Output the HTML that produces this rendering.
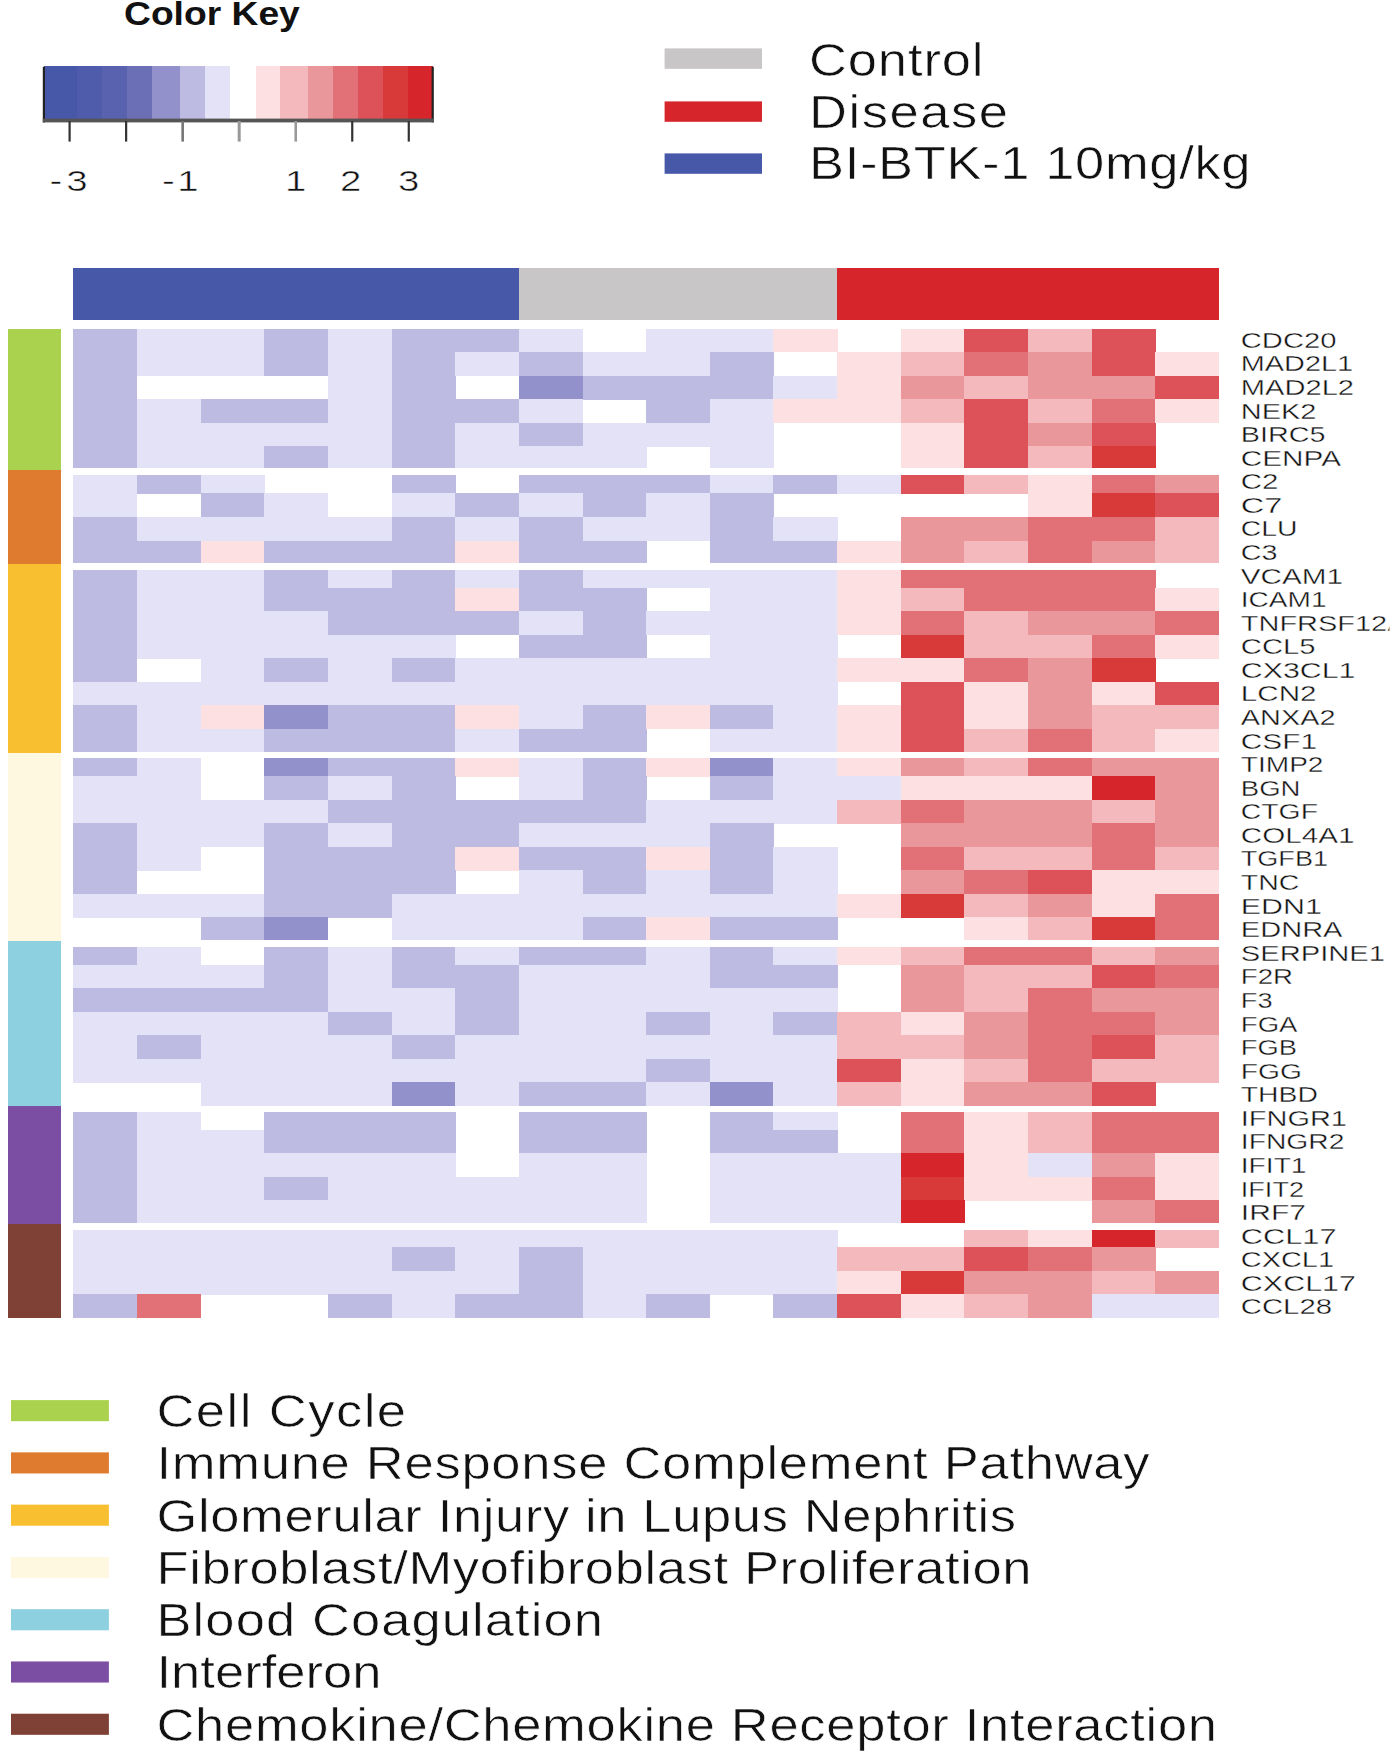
<!DOCTYPE html>
<html><head><meta charset="utf-8"><title>Heatmap</title>
<style>html,body{margin:0;padding:0;background:#fff}svg{display:block}text{font-family:"Liberation Sans",Arial,Helvetica,sans-serif;fill:#111}</style></head><body>
<svg width="1395" height="1755" viewBox="0 0 1395 1755">
<defs><clipPath id="clipR"><rect x="0" y="0" width="1389.4" height="1755"/></clipPath></defs>
<rect width="1395" height="1755" fill="#fff"/>
<g shape-rendering="crispEdges">
<rect x="43.70" y="66.3" width="33.90" height="52.70" fill="#4858A8"/>
<rect x="77.10" y="66.3" width="25.40" height="52.70" fill="#4E5CAB"/>
<rect x="102.00" y="66.3" width="25.60" height="52.70" fill="#5962AE"/>
<rect x="127.10" y="66.3" width="25.80" height="52.70" fill="#6B6FB6"/>
<rect x="152.40" y="66.3" width="28.40" height="52.70" fill="#9391CB"/>
<rect x="180.30" y="66.3" width="25.30" height="52.70" fill="#BDBBE2"/>
<rect x="205.10" y="66.3" width="25.30" height="52.70" fill="#E4E2F6"/>
<rect x="229.90" y="66.3" width="26.20" height="52.70" fill="#FFFFFF"/>
<rect x="255.60" y="66.3" width="25.30" height="52.70" fill="#FDE0E1"/>
<rect x="280.40" y="66.3" width="28.10" height="52.70" fill="#F3B9BC"/>
<rect x="308.00" y="66.3" width="25.60" height="52.70" fill="#E9979B"/>
<rect x="333.10" y="66.3" width="25.40" height="52.70" fill="#E27177"/>
<rect x="358.00" y="66.3" width="25.30" height="52.70" fill="#DC5258"/>
<rect x="382.80" y="66.3" width="25.30" height="52.70" fill="#D83A3A"/>
<rect x="407.60" y="66.3" width="25.40" height="52.70" fill="#D7262B"/>
</g>
<rect x="42.8" y="66.8" width="2.2" height="55.60" fill="#222"/>
<rect x="431.6" y="66.8" width="2.2" height="55.60" fill="#222"/>
<rect x="42.8" y="118.6" width="391" height="3.8" fill="#555"/>
<rect x="68.50" y="121" width="2.2" height="20.6" fill="#333"/>
<rect x="125.03" y="121" width="2.2" height="20.6" fill="#333"/>
<rect x="181.36" y="121" width="2.6" height="20.6" fill="#777"/>
<rect x="237.69" y="121" width="3" height="20.6" fill="#999"/>
<rect x="294.42" y="121" width="2.6" height="20.6" fill="#999"/>
<rect x="351.15" y="121" width="2.2" height="20.6" fill="#333"/>
<rect x="407.68" y="121" width="2.2" height="20.6" fill="#333"/>
<text x="124.00" y="24.70" font-size="32.5" font-weight="bold" textLength="175.80" lengthAdjust="spacingAndGlyphs">Color Key</text>
<text transform="translate(49.50,190.80) scale(1.28,1)" font-size="30" textLength="29.69" lengthAdjust="spacing" stroke="#fff" stroke-width="0.5">-3</text>
<text transform="translate(162.00,190.80) scale(1.28,1)" font-size="30" textLength="28.52" lengthAdjust="spacing" stroke="#fff" stroke-width="0.5">-1</text>
<text transform="translate(285.00,190.80) scale(1.28,1)" font-size="30" stroke="#fff" stroke-width="0.5">1</text>
<text transform="translate(340.00,190.80) scale(1.28,1)" font-size="30" stroke="#fff" stroke-width="0.5">2</text>
<text transform="translate(398.00,190.80) scale(1.28,1)" font-size="30" stroke="#fff" stroke-width="0.5">3</text>
<rect x="664.6" y="48.4" width="97.4" height="20.4" fill="#C8C6C7"/>
<text transform="translate(809.00,75.50) scale(1.13,1)" font-size="46.5" textLength="154.42" lengthAdjust="spacing" stroke="#fff" stroke-width="0.6">Control</text>
<rect x="664.6" y="101.4" width="97.4" height="20.4" fill="#D7262B"/>
<text transform="translate(809.00,127.90) scale(1.13,1)" font-size="46.5" textLength="176.11" lengthAdjust="spacing" stroke="#fff" stroke-width="0.6">Disease</text>
<rect x="664.6" y="153.4" width="97.4" height="20.4" fill="#4858A8"/>
<text transform="translate(809.00,178.60) scale(1.13,1)" font-size="46.5" textLength="390.71" lengthAdjust="spacing" stroke="#fff" stroke-width="0.6">BI-BTK-1 10mg/kg</text>
<g shape-rendering="crispEdges">
<rect x="73.30" y="268" width="445.55" height="51.5" fill="#4858A8"/>
<rect x="518.85" y="268" width="318.25" height="51.5" fill="#C8C6C7"/>
<rect x="837.10" y="268" width="381.90" height="51.5" fill="#D7262B"/>
<rect x="7.5" y="328.50" width="53.5" height="141.66" fill="#ABD24F"/>
<rect x="7.5" y="469.86" width="53.5" height="94.54" fill="#DF7B2F"/>
<rect x="7.5" y="564.10" width="53.5" height="188.78" fill="#F8BF31"/>
<rect x="7.5" y="752.57" width="53.5" height="188.78" fill="#FFF8E1"/>
<rect x="7.5" y="941.05" width="53.5" height="165.22" fill="#8DD0E0"/>
<rect x="7.5" y="1105.96" width="53.5" height="118.10" fill="#7B4EA3"/>
<rect x="7.5" y="1223.76" width="53.5" height="94.54" fill="#7F4035"/>
<rect x="73.30" y="328.50" width="64.05" height="23.96" fill="#BDBBE2"/>
<rect x="136.95" y="328.50" width="127.70" height="23.96" fill="#E4E2F6"/>
<rect x="264.25" y="328.50" width="64.05" height="23.96" fill="#BDBBE2"/>
<rect x="327.90" y="328.50" width="64.05" height="23.96" fill="#E4E2F6"/>
<rect x="391.55" y="328.50" width="127.70" height="23.96" fill="#BDBBE2"/>
<rect x="518.85" y="328.50" width="64.05" height="23.96" fill="#E4E2F6"/>
<rect x="646.15" y="328.50" width="127.70" height="23.96" fill="#E4E2F6"/>
<rect x="773.45" y="328.50" width="64.05" height="23.96" fill="#FDE0E1"/>
<rect x="900.75" y="328.50" width="64.05" height="23.96" fill="#FDE0E1"/>
<rect x="964.40" y="328.50" width="64.05" height="23.96" fill="#DC5258"/>
<rect x="1028.05" y="328.50" width="64.05" height="23.96" fill="#F3B9BC"/>
<rect x="1091.70" y="328.50" width="64.05" height="23.96" fill="#DC5258"/>
<rect x="73.30" y="352.06" width="64.05" height="23.96" fill="#BDBBE2"/>
<rect x="136.95" y="352.06" width="127.70" height="23.96" fill="#E4E2F6"/>
<rect x="264.25" y="352.06" width="64.05" height="23.96" fill="#BDBBE2"/>
<rect x="327.90" y="352.06" width="64.05" height="23.96" fill="#E4E2F6"/>
<rect x="391.55" y="352.06" width="64.05" height="23.96" fill="#BDBBE2"/>
<rect x="455.20" y="352.06" width="64.05" height="23.96" fill="#E4E2F6"/>
<rect x="518.85" y="352.06" width="64.05" height="23.96" fill="#BDBBE2"/>
<rect x="582.50" y="352.06" width="127.70" height="23.96" fill="#E4E2F6"/>
<rect x="709.80" y="352.06" width="64.05" height="23.96" fill="#BDBBE2"/>
<rect x="837.10" y="352.06" width="64.05" height="23.96" fill="#FDE0E1"/>
<rect x="900.75" y="352.06" width="64.05" height="23.96" fill="#F3B9BC"/>
<rect x="964.40" y="352.06" width="64.05" height="23.96" fill="#E27177"/>
<rect x="1028.05" y="352.06" width="64.05" height="23.96" fill="#E9979B"/>
<rect x="1091.70" y="352.06" width="64.05" height="23.96" fill="#DC5258"/>
<rect x="1155.35" y="352.06" width="64.05" height="23.96" fill="#FDE0E1"/>
<rect x="73.30" y="375.62" width="64.05" height="23.96" fill="#BDBBE2"/>
<rect x="327.90" y="375.62" width="64.05" height="23.96" fill="#E4E2F6"/>
<rect x="391.55" y="375.62" width="64.05" height="23.96" fill="#BDBBE2"/>
<rect x="518.85" y="375.62" width="64.05" height="23.96" fill="#9391CB"/>
<rect x="582.50" y="375.62" width="191.35" height="23.96" fill="#BDBBE2"/>
<rect x="773.45" y="375.62" width="64.05" height="23.96" fill="#E4E2F6"/>
<rect x="837.10" y="375.62" width="64.05" height="23.96" fill="#FDE0E1"/>
<rect x="900.75" y="375.62" width="64.05" height="23.96" fill="#E9979B"/>
<rect x="964.40" y="375.62" width="64.05" height="23.96" fill="#F3B9BC"/>
<rect x="1028.05" y="375.62" width="127.70" height="23.96" fill="#E9979B"/>
<rect x="1155.35" y="375.62" width="64.05" height="23.96" fill="#DC5258"/>
<rect x="73.30" y="399.18" width="64.05" height="23.96" fill="#BDBBE2"/>
<rect x="136.95" y="399.18" width="64.05" height="23.96" fill="#E4E2F6"/>
<rect x="200.60" y="399.18" width="127.70" height="23.96" fill="#BDBBE2"/>
<rect x="327.90" y="399.18" width="64.05" height="23.96" fill="#E4E2F6"/>
<rect x="391.55" y="399.18" width="127.70" height="23.96" fill="#BDBBE2"/>
<rect x="518.85" y="399.18" width="64.05" height="23.96" fill="#E4E2F6"/>
<rect x="646.15" y="399.18" width="64.05" height="23.96" fill="#BDBBE2"/>
<rect x="709.80" y="399.18" width="64.05" height="23.96" fill="#E4E2F6"/>
<rect x="773.45" y="399.18" width="127.70" height="23.96" fill="#FDE0E1"/>
<rect x="900.75" y="399.18" width="64.05" height="23.96" fill="#F3B9BC"/>
<rect x="964.40" y="399.18" width="64.05" height="23.96" fill="#DC5258"/>
<rect x="1028.05" y="399.18" width="64.05" height="23.96" fill="#F3B9BC"/>
<rect x="1091.70" y="399.18" width="64.05" height="23.96" fill="#E27177"/>
<rect x="1155.35" y="399.18" width="64.05" height="23.96" fill="#FDE0E1"/>
<rect x="73.30" y="422.74" width="64.05" height="23.96" fill="#BDBBE2"/>
<rect x="136.95" y="422.74" width="255.00" height="23.96" fill="#E4E2F6"/>
<rect x="391.55" y="422.74" width="64.05" height="23.96" fill="#BDBBE2"/>
<rect x="455.20" y="422.74" width="64.05" height="23.96" fill="#E4E2F6"/>
<rect x="518.85" y="422.74" width="64.05" height="23.96" fill="#BDBBE2"/>
<rect x="582.50" y="422.74" width="191.35" height="23.96" fill="#E4E2F6"/>
<rect x="900.75" y="422.74" width="64.05" height="23.96" fill="#FDE0E1"/>
<rect x="964.40" y="422.74" width="64.05" height="23.96" fill="#DC5258"/>
<rect x="1028.05" y="422.74" width="64.05" height="23.96" fill="#E9979B"/>
<rect x="1091.70" y="422.74" width="64.05" height="23.96" fill="#DC5258"/>
<rect x="73.30" y="446.30" width="64.05" height="23.96" fill="#BDBBE2"/>
<rect x="136.95" y="446.30" width="127.70" height="23.96" fill="#E4E2F6"/>
<rect x="264.25" y="446.30" width="64.05" height="23.96" fill="#BDBBE2"/>
<rect x="327.90" y="446.30" width="64.05" height="23.96" fill="#E4E2F6"/>
<rect x="391.55" y="446.30" width="64.05" height="23.96" fill="#BDBBE2"/>
<rect x="455.20" y="446.30" width="191.35" height="23.96" fill="#E4E2F6"/>
<rect x="709.80" y="446.30" width="64.05" height="23.96" fill="#E4E2F6"/>
<rect x="900.75" y="446.30" width="64.05" height="23.96" fill="#FDE0E1"/>
<rect x="964.40" y="446.30" width="64.05" height="23.96" fill="#DC5258"/>
<rect x="1028.05" y="446.30" width="64.05" height="23.96" fill="#F3B9BC"/>
<rect x="1091.70" y="446.30" width="64.05" height="23.96" fill="#D83A3A"/>
<rect x="73.30" y="469.86" width="64.05" height="23.96" fill="#E4E2F6"/>
<rect x="136.95" y="469.86" width="64.05" height="23.96" fill="#BDBBE2"/>
<rect x="200.60" y="469.86" width="64.05" height="23.96" fill="#E4E2F6"/>
<rect x="391.55" y="469.86" width="64.05" height="23.96" fill="#BDBBE2"/>
<rect x="518.85" y="469.86" width="191.35" height="23.96" fill="#BDBBE2"/>
<rect x="709.80" y="469.86" width="64.05" height="23.96" fill="#E4E2F6"/>
<rect x="773.45" y="469.86" width="64.05" height="23.96" fill="#BDBBE2"/>
<rect x="837.10" y="469.86" width="64.05" height="23.96" fill="#E4E2F6"/>
<rect x="900.75" y="469.86" width="64.05" height="23.96" fill="#DC5258"/>
<rect x="964.40" y="469.86" width="64.05" height="23.96" fill="#F3B9BC"/>
<rect x="1028.05" y="469.86" width="64.05" height="23.96" fill="#FDE0E1"/>
<rect x="1091.70" y="469.86" width="64.05" height="23.96" fill="#E27177"/>
<rect x="1155.35" y="469.86" width="64.05" height="23.96" fill="#E9979B"/>
<rect x="73.30" y="493.42" width="64.05" height="23.96" fill="#E4E2F6"/>
<rect x="200.60" y="493.42" width="64.05" height="23.96" fill="#BDBBE2"/>
<rect x="264.25" y="493.42" width="64.05" height="23.96" fill="#E4E2F6"/>
<rect x="391.55" y="493.42" width="64.05" height="23.96" fill="#E4E2F6"/>
<rect x="455.20" y="493.42" width="64.05" height="23.96" fill="#BDBBE2"/>
<rect x="518.85" y="493.42" width="64.05" height="23.96" fill="#E4E2F6"/>
<rect x="582.50" y="493.42" width="64.05" height="23.96" fill="#BDBBE2"/>
<rect x="646.15" y="493.42" width="64.05" height="23.96" fill="#E4E2F6"/>
<rect x="709.80" y="493.42" width="64.05" height="23.96" fill="#BDBBE2"/>
<rect x="1028.05" y="493.42" width="64.05" height="23.96" fill="#FDE0E1"/>
<rect x="1091.70" y="493.42" width="64.05" height="23.96" fill="#D83A3A"/>
<rect x="1155.35" y="493.42" width="64.05" height="23.96" fill="#DC5258"/>
<rect x="73.30" y="516.98" width="64.05" height="23.96" fill="#BDBBE2"/>
<rect x="136.95" y="516.98" width="255.00" height="23.96" fill="#E4E2F6"/>
<rect x="391.55" y="516.98" width="64.05" height="23.96" fill="#BDBBE2"/>
<rect x="455.20" y="516.98" width="64.05" height="23.96" fill="#E4E2F6"/>
<rect x="518.85" y="516.98" width="64.05" height="23.96" fill="#BDBBE2"/>
<rect x="582.50" y="516.98" width="127.70" height="23.96" fill="#E4E2F6"/>
<rect x="709.80" y="516.98" width="64.05" height="23.96" fill="#BDBBE2"/>
<rect x="773.45" y="516.98" width="64.05" height="23.96" fill="#E4E2F6"/>
<rect x="900.75" y="516.98" width="127.70" height="23.96" fill="#E9979B"/>
<rect x="1028.05" y="516.98" width="127.70" height="23.96" fill="#E27177"/>
<rect x="1155.35" y="516.98" width="64.05" height="23.96" fill="#F3B9BC"/>
<rect x="73.30" y="540.54" width="127.70" height="23.96" fill="#BDBBE2"/>
<rect x="200.60" y="540.54" width="64.05" height="23.96" fill="#FDE0E1"/>
<rect x="264.25" y="540.54" width="191.35" height="23.96" fill="#BDBBE2"/>
<rect x="455.20" y="540.54" width="64.05" height="23.96" fill="#FDE0E1"/>
<rect x="518.85" y="540.54" width="127.70" height="23.96" fill="#BDBBE2"/>
<rect x="709.80" y="540.54" width="127.70" height="23.96" fill="#BDBBE2"/>
<rect x="837.10" y="540.54" width="64.05" height="23.96" fill="#FDE0E1"/>
<rect x="900.75" y="540.54" width="64.05" height="23.96" fill="#E9979B"/>
<rect x="964.40" y="540.54" width="64.05" height="23.96" fill="#F3B9BC"/>
<rect x="1028.05" y="540.54" width="64.05" height="23.96" fill="#E27177"/>
<rect x="1091.70" y="540.54" width="64.05" height="23.96" fill="#E9979B"/>
<rect x="1155.35" y="540.54" width="64.05" height="23.96" fill="#F3B9BC"/>
<rect x="73.30" y="564.10" width="64.05" height="23.96" fill="#BDBBE2"/>
<rect x="136.95" y="564.10" width="127.70" height="23.96" fill="#E4E2F6"/>
<rect x="264.25" y="564.10" width="64.05" height="23.96" fill="#BDBBE2"/>
<rect x="327.90" y="564.10" width="64.05" height="23.96" fill="#E4E2F6"/>
<rect x="391.55" y="564.10" width="64.05" height="23.96" fill="#BDBBE2"/>
<rect x="455.20" y="564.10" width="64.05" height="23.96" fill="#E4E2F6"/>
<rect x="518.85" y="564.10" width="64.05" height="23.96" fill="#BDBBE2"/>
<rect x="582.50" y="564.10" width="255.00" height="23.96" fill="#E4E2F6"/>
<rect x="837.10" y="564.10" width="64.05" height="23.96" fill="#FDE0E1"/>
<rect x="900.75" y="564.10" width="255.00" height="23.96" fill="#E27177"/>
<rect x="73.30" y="587.65" width="64.05" height="23.96" fill="#BDBBE2"/>
<rect x="136.95" y="587.65" width="127.70" height="23.96" fill="#E4E2F6"/>
<rect x="264.25" y="587.65" width="191.35" height="23.96" fill="#BDBBE2"/>
<rect x="455.20" y="587.65" width="64.05" height="23.96" fill="#FDE0E1"/>
<rect x="518.85" y="587.65" width="127.70" height="23.96" fill="#BDBBE2"/>
<rect x="709.80" y="587.65" width="127.70" height="23.96" fill="#E4E2F6"/>
<rect x="837.10" y="587.65" width="64.05" height="23.96" fill="#FDE0E1"/>
<rect x="900.75" y="587.65" width="64.05" height="23.96" fill="#F3B9BC"/>
<rect x="964.40" y="587.65" width="191.35" height="23.96" fill="#E27177"/>
<rect x="1155.35" y="587.65" width="64.05" height="23.96" fill="#FDE0E1"/>
<rect x="73.30" y="611.21" width="64.05" height="23.96" fill="#BDBBE2"/>
<rect x="136.95" y="611.21" width="191.35" height="23.96" fill="#E4E2F6"/>
<rect x="327.90" y="611.21" width="191.35" height="23.96" fill="#BDBBE2"/>
<rect x="518.85" y="611.21" width="64.05" height="23.96" fill="#E4E2F6"/>
<rect x="582.50" y="611.21" width="64.05" height="23.96" fill="#BDBBE2"/>
<rect x="646.15" y="611.21" width="191.35" height="23.96" fill="#E4E2F6"/>
<rect x="837.10" y="611.21" width="64.05" height="23.96" fill="#FDE0E1"/>
<rect x="900.75" y="611.21" width="64.05" height="23.96" fill="#E27177"/>
<rect x="964.40" y="611.21" width="64.05" height="23.96" fill="#F3B9BC"/>
<rect x="1028.05" y="611.21" width="127.70" height="23.96" fill="#E9979B"/>
<rect x="1155.35" y="611.21" width="64.05" height="23.96" fill="#E27177"/>
<rect x="73.30" y="634.77" width="64.05" height="23.96" fill="#BDBBE2"/>
<rect x="136.95" y="634.77" width="318.65" height="23.96" fill="#E4E2F6"/>
<rect x="518.85" y="634.77" width="127.70" height="23.96" fill="#BDBBE2"/>
<rect x="709.80" y="634.77" width="127.70" height="23.96" fill="#E4E2F6"/>
<rect x="900.75" y="634.77" width="64.05" height="23.96" fill="#D83A3A"/>
<rect x="964.40" y="634.77" width="127.70" height="23.96" fill="#F3B9BC"/>
<rect x="1091.70" y="634.77" width="64.05" height="23.96" fill="#E27177"/>
<rect x="1155.35" y="634.77" width="64.05" height="23.96" fill="#FDE0E1"/>
<rect x="73.30" y="658.33" width="64.05" height="23.96" fill="#BDBBE2"/>
<rect x="200.60" y="658.33" width="64.05" height="23.96" fill="#E4E2F6"/>
<rect x="264.25" y="658.33" width="64.05" height="23.96" fill="#BDBBE2"/>
<rect x="327.90" y="658.33" width="64.05" height="23.96" fill="#E4E2F6"/>
<rect x="391.55" y="658.33" width="64.05" height="23.96" fill="#BDBBE2"/>
<rect x="455.20" y="658.33" width="382.30" height="23.96" fill="#E4E2F6"/>
<rect x="837.10" y="658.33" width="127.70" height="23.96" fill="#FDE0E1"/>
<rect x="964.40" y="658.33" width="64.05" height="23.96" fill="#E27177"/>
<rect x="1028.05" y="658.33" width="64.05" height="23.96" fill="#E9979B"/>
<rect x="1091.70" y="658.33" width="64.05" height="23.96" fill="#D83A3A"/>
<rect x="73.30" y="681.89" width="764.20" height="23.96" fill="#E4E2F6"/>
<rect x="900.75" y="681.89" width="64.05" height="23.96" fill="#DC5258"/>
<rect x="964.40" y="681.89" width="64.05" height="23.96" fill="#FDE0E1"/>
<rect x="1028.05" y="681.89" width="64.05" height="23.96" fill="#E9979B"/>
<rect x="1091.70" y="681.89" width="64.05" height="23.96" fill="#FDE0E1"/>
<rect x="1155.35" y="681.89" width="64.05" height="23.96" fill="#DC5258"/>
<rect x="73.30" y="705.45" width="64.05" height="23.96" fill="#BDBBE2"/>
<rect x="136.95" y="705.45" width="64.05" height="23.96" fill="#E4E2F6"/>
<rect x="200.60" y="705.45" width="64.05" height="23.96" fill="#FDE0E1"/>
<rect x="264.25" y="705.45" width="64.05" height="23.96" fill="#9391CB"/>
<rect x="327.90" y="705.45" width="127.70" height="23.96" fill="#BDBBE2"/>
<rect x="455.20" y="705.45" width="64.05" height="23.96" fill="#FDE0E1"/>
<rect x="518.85" y="705.45" width="64.05" height="23.96" fill="#E4E2F6"/>
<rect x="582.50" y="705.45" width="64.05" height="23.96" fill="#BDBBE2"/>
<rect x="646.15" y="705.45" width="64.05" height="23.96" fill="#FDE0E1"/>
<rect x="709.80" y="705.45" width="64.05" height="23.96" fill="#BDBBE2"/>
<rect x="773.45" y="705.45" width="64.05" height="23.96" fill="#E4E2F6"/>
<rect x="837.10" y="705.45" width="64.05" height="23.96" fill="#FDE0E1"/>
<rect x="900.75" y="705.45" width="64.05" height="23.96" fill="#DC5258"/>
<rect x="964.40" y="705.45" width="64.05" height="23.96" fill="#FDE0E1"/>
<rect x="1028.05" y="705.45" width="64.05" height="23.96" fill="#E9979B"/>
<rect x="1091.70" y="705.45" width="127.70" height="23.96" fill="#F3B9BC"/>
<rect x="73.30" y="729.01" width="64.05" height="23.96" fill="#BDBBE2"/>
<rect x="136.95" y="729.01" width="127.70" height="23.96" fill="#E4E2F6"/>
<rect x="264.25" y="729.01" width="191.35" height="23.96" fill="#BDBBE2"/>
<rect x="455.20" y="729.01" width="64.05" height="23.96" fill="#E4E2F6"/>
<rect x="518.85" y="729.01" width="127.70" height="23.96" fill="#BDBBE2"/>
<rect x="709.80" y="729.01" width="127.70" height="23.96" fill="#E4E2F6"/>
<rect x="837.10" y="729.01" width="64.05" height="23.96" fill="#FDE0E1"/>
<rect x="900.75" y="729.01" width="64.05" height="23.96" fill="#DC5258"/>
<rect x="964.40" y="729.01" width="64.05" height="23.96" fill="#F3B9BC"/>
<rect x="1028.05" y="729.01" width="64.05" height="23.96" fill="#E27177"/>
<rect x="1091.70" y="729.01" width="64.05" height="23.96" fill="#F3B9BC"/>
<rect x="1155.35" y="729.01" width="64.05" height="23.96" fill="#FDE0E1"/>
<rect x="73.30" y="752.57" width="64.05" height="23.96" fill="#BDBBE2"/>
<rect x="136.95" y="752.57" width="64.05" height="23.96" fill="#E4E2F6"/>
<rect x="264.25" y="752.57" width="64.05" height="23.96" fill="#9391CB"/>
<rect x="327.90" y="752.57" width="127.70" height="23.96" fill="#BDBBE2"/>
<rect x="455.20" y="752.57" width="64.05" height="23.96" fill="#FDE0E1"/>
<rect x="518.85" y="752.57" width="64.05" height="23.96" fill="#E4E2F6"/>
<rect x="582.50" y="752.57" width="64.05" height="23.96" fill="#BDBBE2"/>
<rect x="646.15" y="752.57" width="64.05" height="23.96" fill="#FDE0E1"/>
<rect x="709.80" y="752.57" width="64.05" height="23.96" fill="#9391CB"/>
<rect x="773.45" y="752.57" width="64.05" height="23.96" fill="#E4E2F6"/>
<rect x="837.10" y="752.57" width="64.05" height="23.96" fill="#FDE0E1"/>
<rect x="900.75" y="752.57" width="64.05" height="23.96" fill="#E9979B"/>
<rect x="964.40" y="752.57" width="64.05" height="23.96" fill="#F3B9BC"/>
<rect x="1028.05" y="752.57" width="64.05" height="23.96" fill="#E27177"/>
<rect x="1091.70" y="752.57" width="127.70" height="23.96" fill="#E9979B"/>
<rect x="73.30" y="776.13" width="127.70" height="23.96" fill="#E4E2F6"/>
<rect x="264.25" y="776.13" width="64.05" height="23.96" fill="#BDBBE2"/>
<rect x="327.90" y="776.13" width="64.05" height="23.96" fill="#E4E2F6"/>
<rect x="391.55" y="776.13" width="64.05" height="23.96" fill="#BDBBE2"/>
<rect x="518.85" y="776.13" width="64.05" height="23.96" fill="#E4E2F6"/>
<rect x="582.50" y="776.13" width="64.05" height="23.96" fill="#BDBBE2"/>
<rect x="709.80" y="776.13" width="64.05" height="23.96" fill="#BDBBE2"/>
<rect x="773.45" y="776.13" width="127.70" height="23.96" fill="#E4E2F6"/>
<rect x="900.75" y="776.13" width="191.35" height="23.96" fill="#FDE0E1"/>
<rect x="1091.70" y="776.13" width="64.05" height="23.96" fill="#D7262B"/>
<rect x="1155.35" y="776.13" width="64.05" height="23.96" fill="#E9979B"/>
<rect x="73.30" y="799.69" width="255.00" height="23.96" fill="#E4E2F6"/>
<rect x="327.90" y="799.69" width="318.65" height="23.96" fill="#BDBBE2"/>
<rect x="646.15" y="799.69" width="191.35" height="23.96" fill="#E4E2F6"/>
<rect x="837.10" y="799.69" width="64.05" height="23.96" fill="#F3B9BC"/>
<rect x="900.75" y="799.69" width="64.05" height="23.96" fill="#E27177"/>
<rect x="964.40" y="799.69" width="127.70" height="23.96" fill="#E9979B"/>
<rect x="1091.70" y="799.69" width="64.05" height="23.96" fill="#F3B9BC"/>
<rect x="1155.35" y="799.69" width="64.05" height="23.96" fill="#E9979B"/>
<rect x="73.30" y="823.25" width="64.05" height="23.96" fill="#BDBBE2"/>
<rect x="136.95" y="823.25" width="127.70" height="23.96" fill="#E4E2F6"/>
<rect x="264.25" y="823.25" width="64.05" height="23.96" fill="#BDBBE2"/>
<rect x="327.90" y="823.25" width="64.05" height="23.96" fill="#E4E2F6"/>
<rect x="391.55" y="823.25" width="127.70" height="23.96" fill="#BDBBE2"/>
<rect x="518.85" y="823.25" width="191.35" height="23.96" fill="#E4E2F6"/>
<rect x="709.80" y="823.25" width="64.05" height="23.96" fill="#BDBBE2"/>
<rect x="900.75" y="823.25" width="191.35" height="23.96" fill="#E9979B"/>
<rect x="1091.70" y="823.25" width="64.05" height="23.96" fill="#E27177"/>
<rect x="1155.35" y="823.25" width="64.05" height="23.96" fill="#E9979B"/>
<rect x="73.30" y="846.81" width="64.05" height="23.96" fill="#BDBBE2"/>
<rect x="136.95" y="846.81" width="64.05" height="23.96" fill="#E4E2F6"/>
<rect x="264.25" y="846.81" width="191.35" height="23.96" fill="#BDBBE2"/>
<rect x="455.20" y="846.81" width="64.05" height="23.96" fill="#FDE0E1"/>
<rect x="518.85" y="846.81" width="127.70" height="23.96" fill="#BDBBE2"/>
<rect x="646.15" y="846.81" width="64.05" height="23.96" fill="#FDE0E1"/>
<rect x="709.80" y="846.81" width="64.05" height="23.96" fill="#BDBBE2"/>
<rect x="773.45" y="846.81" width="64.05" height="23.96" fill="#E4E2F6"/>
<rect x="900.75" y="846.81" width="64.05" height="23.96" fill="#E27177"/>
<rect x="964.40" y="846.81" width="127.70" height="23.96" fill="#F3B9BC"/>
<rect x="1091.70" y="846.81" width="64.05" height="23.96" fill="#E27177"/>
<rect x="1155.35" y="846.81" width="64.05" height="23.96" fill="#F3B9BC"/>
<rect x="73.30" y="870.37" width="64.05" height="23.96" fill="#BDBBE2"/>
<rect x="264.25" y="870.37" width="191.35" height="23.96" fill="#BDBBE2"/>
<rect x="518.85" y="870.37" width="64.05" height="23.96" fill="#E4E2F6"/>
<rect x="582.50" y="870.37" width="64.05" height="23.96" fill="#BDBBE2"/>
<rect x="646.15" y="870.37" width="64.05" height="23.96" fill="#E4E2F6"/>
<rect x="709.80" y="870.37" width="64.05" height="23.96" fill="#BDBBE2"/>
<rect x="773.45" y="870.37" width="64.05" height="23.96" fill="#E4E2F6"/>
<rect x="900.75" y="870.37" width="64.05" height="23.96" fill="#E9979B"/>
<rect x="964.40" y="870.37" width="64.05" height="23.96" fill="#E27177"/>
<rect x="1028.05" y="870.37" width="64.05" height="23.96" fill="#DC5258"/>
<rect x="1091.70" y="870.37" width="127.70" height="23.96" fill="#FDE0E1"/>
<rect x="73.30" y="893.93" width="191.35" height="23.96" fill="#E4E2F6"/>
<rect x="264.25" y="893.93" width="127.70" height="23.96" fill="#BDBBE2"/>
<rect x="391.55" y="893.93" width="445.95" height="23.96" fill="#E4E2F6"/>
<rect x="837.10" y="893.93" width="64.05" height="23.96" fill="#FDE0E1"/>
<rect x="900.75" y="893.93" width="64.05" height="23.96" fill="#D83A3A"/>
<rect x="964.40" y="893.93" width="64.05" height="23.96" fill="#F3B9BC"/>
<rect x="1028.05" y="893.93" width="64.05" height="23.96" fill="#E9979B"/>
<rect x="1091.70" y="893.93" width="64.05" height="23.96" fill="#FDE0E1"/>
<rect x="1155.35" y="893.93" width="64.05" height="23.96" fill="#E27177"/>
<rect x="200.60" y="917.49" width="64.05" height="23.96" fill="#BDBBE2"/>
<rect x="264.25" y="917.49" width="64.05" height="23.96" fill="#9391CB"/>
<rect x="391.55" y="917.49" width="191.35" height="23.96" fill="#E4E2F6"/>
<rect x="582.50" y="917.49" width="64.05" height="23.96" fill="#BDBBE2"/>
<rect x="646.15" y="917.49" width="64.05" height="23.96" fill="#FDE0E1"/>
<rect x="709.80" y="917.49" width="127.70" height="23.96" fill="#BDBBE2"/>
<rect x="964.40" y="917.49" width="64.05" height="23.96" fill="#FDE0E1"/>
<rect x="1028.05" y="917.49" width="64.05" height="23.96" fill="#F3B9BC"/>
<rect x="1091.70" y="917.49" width="64.05" height="23.96" fill="#D83A3A"/>
<rect x="1155.35" y="917.49" width="64.05" height="23.96" fill="#E27177"/>
<rect x="73.30" y="941.05" width="64.05" height="23.96" fill="#BDBBE2"/>
<rect x="136.95" y="941.05" width="64.05" height="23.96" fill="#E4E2F6"/>
<rect x="264.25" y="941.05" width="64.05" height="23.96" fill="#BDBBE2"/>
<rect x="327.90" y="941.05" width="64.05" height="23.96" fill="#E4E2F6"/>
<rect x="391.55" y="941.05" width="64.05" height="23.96" fill="#BDBBE2"/>
<rect x="455.20" y="941.05" width="64.05" height="23.96" fill="#E4E2F6"/>
<rect x="518.85" y="941.05" width="127.70" height="23.96" fill="#BDBBE2"/>
<rect x="646.15" y="941.05" width="64.05" height="23.96" fill="#E4E2F6"/>
<rect x="709.80" y="941.05" width="64.05" height="23.96" fill="#BDBBE2"/>
<rect x="773.45" y="941.05" width="64.05" height="23.96" fill="#E4E2F6"/>
<rect x="837.10" y="941.05" width="64.05" height="23.96" fill="#FDE0E1"/>
<rect x="900.75" y="941.05" width="64.05" height="23.96" fill="#F3B9BC"/>
<rect x="964.40" y="941.05" width="127.70" height="23.96" fill="#E27177"/>
<rect x="1091.70" y="941.05" width="64.05" height="23.96" fill="#F3B9BC"/>
<rect x="1155.35" y="941.05" width="64.05" height="23.96" fill="#E9979B"/>
<rect x="73.30" y="964.61" width="191.35" height="23.96" fill="#E4E2F6"/>
<rect x="264.25" y="964.61" width="64.05" height="23.96" fill="#BDBBE2"/>
<rect x="327.90" y="964.61" width="64.05" height="23.96" fill="#E4E2F6"/>
<rect x="391.55" y="964.61" width="127.70" height="23.96" fill="#BDBBE2"/>
<rect x="518.85" y="964.61" width="191.35" height="23.96" fill="#E4E2F6"/>
<rect x="709.80" y="964.61" width="127.70" height="23.96" fill="#BDBBE2"/>
<rect x="900.75" y="964.61" width="64.05" height="23.96" fill="#E9979B"/>
<rect x="964.40" y="964.61" width="127.70" height="23.96" fill="#F3B9BC"/>
<rect x="1091.70" y="964.61" width="64.05" height="23.96" fill="#DC5258"/>
<rect x="1155.35" y="964.61" width="64.05" height="23.96" fill="#E27177"/>
<rect x="73.30" y="988.17" width="255.00" height="23.96" fill="#BDBBE2"/>
<rect x="327.90" y="988.17" width="127.70" height="23.96" fill="#E4E2F6"/>
<rect x="455.20" y="988.17" width="64.05" height="23.96" fill="#BDBBE2"/>
<rect x="518.85" y="988.17" width="318.65" height="23.96" fill="#E4E2F6"/>
<rect x="900.75" y="988.17" width="64.05" height="23.96" fill="#E9979B"/>
<rect x="964.40" y="988.17" width="64.05" height="23.96" fill="#F3B9BC"/>
<rect x="1028.05" y="988.17" width="64.05" height="23.96" fill="#E27177"/>
<rect x="1091.70" y="988.17" width="127.70" height="23.96" fill="#E9979B"/>
<rect x="73.30" y="1011.73" width="255.00" height="23.96" fill="#E4E2F6"/>
<rect x="327.90" y="1011.73" width="64.05" height="23.96" fill="#BDBBE2"/>
<rect x="391.55" y="1011.73" width="64.05" height="23.96" fill="#E4E2F6"/>
<rect x="455.20" y="1011.73" width="64.05" height="23.96" fill="#BDBBE2"/>
<rect x="518.85" y="1011.73" width="127.70" height="23.96" fill="#E4E2F6"/>
<rect x="646.15" y="1011.73" width="64.05" height="23.96" fill="#BDBBE2"/>
<rect x="709.80" y="1011.73" width="64.05" height="23.96" fill="#E4E2F6"/>
<rect x="773.45" y="1011.73" width="64.05" height="23.96" fill="#BDBBE2"/>
<rect x="837.10" y="1011.73" width="64.05" height="23.96" fill="#F3B9BC"/>
<rect x="900.75" y="1011.73" width="64.05" height="23.96" fill="#FDE0E1"/>
<rect x="964.40" y="1011.73" width="64.05" height="23.96" fill="#E9979B"/>
<rect x="1028.05" y="1011.73" width="127.70" height="23.96" fill="#E27177"/>
<rect x="1155.35" y="1011.73" width="64.05" height="23.96" fill="#E9979B"/>
<rect x="73.30" y="1035.29" width="64.05" height="23.96" fill="#E4E2F6"/>
<rect x="136.95" y="1035.29" width="64.05" height="23.96" fill="#BDBBE2"/>
<rect x="200.60" y="1035.29" width="191.35" height="23.96" fill="#E4E2F6"/>
<rect x="391.55" y="1035.29" width="64.05" height="23.96" fill="#BDBBE2"/>
<rect x="455.20" y="1035.29" width="382.30" height="23.96" fill="#E4E2F6"/>
<rect x="837.10" y="1035.29" width="127.70" height="23.96" fill="#F3B9BC"/>
<rect x="964.40" y="1035.29" width="64.05" height="23.96" fill="#E9979B"/>
<rect x="1028.05" y="1035.29" width="64.05" height="23.96" fill="#E27177"/>
<rect x="1091.70" y="1035.29" width="64.05" height="23.96" fill="#DC5258"/>
<rect x="1155.35" y="1035.29" width="64.05" height="23.96" fill="#F3B9BC"/>
<rect x="73.30" y="1058.85" width="573.25" height="23.96" fill="#E4E2F6"/>
<rect x="646.15" y="1058.85" width="64.05" height="23.96" fill="#BDBBE2"/>
<rect x="709.80" y="1058.85" width="127.70" height="23.96" fill="#E4E2F6"/>
<rect x="837.10" y="1058.85" width="64.05" height="23.96" fill="#DC5258"/>
<rect x="900.75" y="1058.85" width="64.05" height="23.96" fill="#FDE0E1"/>
<rect x="964.40" y="1058.85" width="64.05" height="23.96" fill="#F3B9BC"/>
<rect x="1028.05" y="1058.85" width="64.05" height="23.96" fill="#E27177"/>
<rect x="1091.70" y="1058.85" width="127.70" height="23.96" fill="#F3B9BC"/>
<rect x="200.60" y="1082.40" width="191.35" height="23.96" fill="#E4E2F6"/>
<rect x="391.55" y="1082.40" width="64.05" height="23.96" fill="#9391CB"/>
<rect x="455.20" y="1082.40" width="64.05" height="23.96" fill="#E4E2F6"/>
<rect x="518.85" y="1082.40" width="127.70" height="23.96" fill="#BDBBE2"/>
<rect x="646.15" y="1082.40" width="64.05" height="23.96" fill="#E4E2F6"/>
<rect x="709.80" y="1082.40" width="64.05" height="23.96" fill="#9391CB"/>
<rect x="773.45" y="1082.40" width="64.05" height="23.96" fill="#E4E2F6"/>
<rect x="837.10" y="1082.40" width="64.05" height="23.96" fill="#F3B9BC"/>
<rect x="900.75" y="1082.40" width="64.05" height="23.96" fill="#FDE0E1"/>
<rect x="964.40" y="1082.40" width="127.70" height="23.96" fill="#E9979B"/>
<rect x="1091.70" y="1082.40" width="64.05" height="23.96" fill="#DC5258"/>
<rect x="73.30" y="1105.96" width="64.05" height="23.96" fill="#BDBBE2"/>
<rect x="136.95" y="1105.96" width="64.05" height="23.96" fill="#E4E2F6"/>
<rect x="264.25" y="1105.96" width="191.35" height="23.96" fill="#BDBBE2"/>
<rect x="518.85" y="1105.96" width="127.70" height="23.96" fill="#BDBBE2"/>
<rect x="709.80" y="1105.96" width="64.05" height="23.96" fill="#BDBBE2"/>
<rect x="773.45" y="1105.96" width="64.05" height="23.96" fill="#E4E2F6"/>
<rect x="900.75" y="1105.96" width="64.05" height="23.96" fill="#E27177"/>
<rect x="964.40" y="1105.96" width="64.05" height="23.96" fill="#FDE0E1"/>
<rect x="1028.05" y="1105.96" width="64.05" height="23.96" fill="#F3B9BC"/>
<rect x="1091.70" y="1105.96" width="127.70" height="23.96" fill="#E27177"/>
<rect x="73.30" y="1129.52" width="64.05" height="23.96" fill="#BDBBE2"/>
<rect x="136.95" y="1129.52" width="127.70" height="23.96" fill="#E4E2F6"/>
<rect x="264.25" y="1129.52" width="191.35" height="23.96" fill="#BDBBE2"/>
<rect x="518.85" y="1129.52" width="127.70" height="23.96" fill="#BDBBE2"/>
<rect x="709.80" y="1129.52" width="127.70" height="23.96" fill="#BDBBE2"/>
<rect x="900.75" y="1129.52" width="64.05" height="23.96" fill="#E27177"/>
<rect x="964.40" y="1129.52" width="64.05" height="23.96" fill="#FDE0E1"/>
<rect x="1028.05" y="1129.52" width="64.05" height="23.96" fill="#F3B9BC"/>
<rect x="1091.70" y="1129.52" width="127.70" height="23.96" fill="#E27177"/>
<rect x="73.30" y="1153.08" width="64.05" height="23.96" fill="#BDBBE2"/>
<rect x="136.95" y="1153.08" width="318.65" height="23.96" fill="#E4E2F6"/>
<rect x="518.85" y="1153.08" width="127.70" height="23.96" fill="#E4E2F6"/>
<rect x="709.80" y="1153.08" width="191.35" height="23.96" fill="#E4E2F6"/>
<rect x="900.75" y="1153.08" width="64.05" height="23.96" fill="#D7262B"/>
<rect x="964.40" y="1153.08" width="64.05" height="23.96" fill="#FDE0E1"/>
<rect x="1028.05" y="1153.08" width="64.05" height="23.96" fill="#E4E2F6"/>
<rect x="1091.70" y="1153.08" width="64.05" height="23.96" fill="#E9979B"/>
<rect x="1155.35" y="1153.08" width="64.05" height="23.96" fill="#FDE0E1"/>
<rect x="73.30" y="1176.64" width="64.05" height="23.96" fill="#BDBBE2"/>
<rect x="136.95" y="1176.64" width="127.70" height="23.96" fill="#E4E2F6"/>
<rect x="264.25" y="1176.64" width="64.05" height="23.96" fill="#BDBBE2"/>
<rect x="327.90" y="1176.64" width="318.65" height="23.96" fill="#E4E2F6"/>
<rect x="709.80" y="1176.64" width="191.35" height="23.96" fill="#E4E2F6"/>
<rect x="900.75" y="1176.64" width="64.05" height="23.96" fill="#D83A3A"/>
<rect x="964.40" y="1176.64" width="127.70" height="23.96" fill="#FDE0E1"/>
<rect x="1091.70" y="1176.64" width="64.05" height="23.96" fill="#E27177"/>
<rect x="1155.35" y="1176.64" width="64.05" height="23.96" fill="#FDE0E1"/>
<rect x="73.30" y="1200.20" width="64.05" height="23.96" fill="#BDBBE2"/>
<rect x="136.95" y="1200.20" width="509.60" height="23.96" fill="#E4E2F6"/>
<rect x="709.80" y="1200.20" width="191.35" height="23.96" fill="#E4E2F6"/>
<rect x="900.75" y="1200.20" width="64.05" height="23.96" fill="#D7262B"/>
<rect x="1091.70" y="1200.20" width="64.05" height="23.96" fill="#E9979B"/>
<rect x="1155.35" y="1200.20" width="64.05" height="23.96" fill="#E27177"/>
<rect x="73.30" y="1223.76" width="764.20" height="23.96" fill="#E4E2F6"/>
<rect x="964.40" y="1223.76" width="64.05" height="23.96" fill="#F3B9BC"/>
<rect x="1028.05" y="1223.76" width="64.05" height="23.96" fill="#FDE0E1"/>
<rect x="1091.70" y="1223.76" width="64.05" height="23.96" fill="#D7262B"/>
<rect x="1155.35" y="1223.76" width="64.05" height="23.96" fill="#F3B9BC"/>
<rect x="73.30" y="1247.32" width="318.65" height="23.96" fill="#E4E2F6"/>
<rect x="391.55" y="1247.32" width="64.05" height="23.96" fill="#BDBBE2"/>
<rect x="455.20" y="1247.32" width="64.05" height="23.96" fill="#E4E2F6"/>
<rect x="518.85" y="1247.32" width="64.05" height="23.96" fill="#BDBBE2"/>
<rect x="582.50" y="1247.32" width="255.00" height="23.96" fill="#E4E2F6"/>
<rect x="837.10" y="1247.32" width="127.70" height="23.96" fill="#F3B9BC"/>
<rect x="964.40" y="1247.32" width="64.05" height="23.96" fill="#DC5258"/>
<rect x="1028.05" y="1247.32" width="64.05" height="23.96" fill="#E27177"/>
<rect x="1091.70" y="1247.32" width="64.05" height="23.96" fill="#E9979B"/>
<rect x="73.30" y="1270.88" width="445.95" height="23.96" fill="#E4E2F6"/>
<rect x="518.85" y="1270.88" width="64.05" height="23.96" fill="#BDBBE2"/>
<rect x="582.50" y="1270.88" width="255.00" height="23.96" fill="#E4E2F6"/>
<rect x="837.10" y="1270.88" width="64.05" height="23.96" fill="#FDE0E1"/>
<rect x="900.75" y="1270.88" width="64.05" height="23.96" fill="#D83A3A"/>
<rect x="964.40" y="1270.88" width="127.70" height="23.96" fill="#E9979B"/>
<rect x="1091.70" y="1270.88" width="64.05" height="23.96" fill="#F3B9BC"/>
<rect x="1155.35" y="1270.88" width="64.05" height="23.96" fill="#E9979B"/>
<rect x="73.30" y="1294.44" width="64.05" height="23.96" fill="#BDBBE2"/>
<rect x="136.95" y="1294.44" width="64.05" height="23.96" fill="#E27177"/>
<rect x="327.90" y="1294.44" width="64.05" height="23.96" fill="#BDBBE2"/>
<rect x="391.55" y="1294.44" width="64.05" height="23.96" fill="#E4E2F6"/>
<rect x="455.20" y="1294.44" width="127.70" height="23.96" fill="#BDBBE2"/>
<rect x="582.50" y="1294.44" width="64.05" height="23.96" fill="#E4E2F6"/>
<rect x="646.15" y="1294.44" width="64.05" height="23.96" fill="#BDBBE2"/>
<rect x="773.45" y="1294.44" width="64.05" height="23.96" fill="#BDBBE2"/>
<rect x="837.10" y="1294.44" width="64.05" height="23.96" fill="#DC5258"/>
<rect x="900.75" y="1294.44" width="64.05" height="23.96" fill="#FDE0E1"/>
<rect x="964.40" y="1294.44" width="64.05" height="23.96" fill="#F3B9BC"/>
<rect x="1028.05" y="1294.44" width="64.05" height="23.96" fill="#E9979B"/>
<rect x="1091.70" y="1294.44" width="127.70" height="23.96" fill="#E4E2F6"/>
<rect x="66" y="468.4" width="1160" height="6.40" fill="#fff"/>
<rect x="66" y="562.6" width="1160" height="7.10" fill="#fff"/>
<rect x="66" y="751.8" width="1160" height="6.10" fill="#fff"/>
<rect x="66" y="939.5" width="1160" height="7.50" fill="#fff"/>
<rect x="66" y="1105.7" width="1160" height="6.20" fill="#fff"/>
<rect x="66" y="1222.7" width="1160" height="6.90" fill="#fff"/>
</g>
<g clip-path="url(#clipR)">
<text x="1240.80" y="347.80" font-size="21.3" textLength="95.70" lengthAdjust="spacingAndGlyphs" stroke="#fff" stroke-width="0.35">CDC20</text>
<text x="1240.80" y="371.38" font-size="21.3" textLength="112.20" lengthAdjust="spacingAndGlyphs" stroke="#fff" stroke-width="0.35">MAD2L1</text>
<text x="1240.80" y="394.95" font-size="21.3" textLength="113.20" lengthAdjust="spacingAndGlyphs" stroke="#fff" stroke-width="0.35">MAD2L2</text>
<text x="1240.80" y="418.53" font-size="21.3" textLength="75.70" lengthAdjust="spacingAndGlyphs" stroke="#fff" stroke-width="0.35">NEK2</text>
<text x="1240.80" y="442.10" font-size="21.3" textLength="84.70" lengthAdjust="spacingAndGlyphs" stroke="#fff" stroke-width="0.35">BIRC5</text>
<text x="1240.80" y="465.68" font-size="21.3" textLength="100.20" lengthAdjust="spacingAndGlyphs" stroke="#fff" stroke-width="0.35">CENPA</text>
<text x="1240.80" y="489.26" font-size="21.3" textLength="37.70" lengthAdjust="spacingAndGlyphs" stroke="#fff" stroke-width="0.35">C2</text>
<text x="1240.80" y="512.83" font-size="21.3" textLength="41.70" lengthAdjust="spacingAndGlyphs" stroke="#fff" stroke-width="0.35">C7</text>
<text x="1240.80" y="536.41" font-size="21.3" textLength="56.70" lengthAdjust="spacingAndGlyphs" stroke="#fff" stroke-width="0.35">CLU</text>
<text x="1240.80" y="559.98" font-size="21.3" textLength="36.70" lengthAdjust="spacingAndGlyphs" stroke="#fff" stroke-width="0.35">C3</text>
<text x="1240.80" y="583.56" font-size="21.3" textLength="102.20" lengthAdjust="spacingAndGlyphs" stroke="#fff" stroke-width="0.35">VCAM1</text>
<text x="1240.80" y="607.14" font-size="21.3" textLength="85.70" lengthAdjust="spacingAndGlyphs" stroke="#fff" stroke-width="0.35">ICAM1</text>
<text x="1240.80" y="630.71" font-size="21.3" textLength="165.70" lengthAdjust="spacingAndGlyphs" stroke="#fff" stroke-width="0.35">TNFRSF12A</text>
<text x="1240.80" y="654.29" font-size="21.3" textLength="74.70" lengthAdjust="spacingAndGlyphs" stroke="#fff" stroke-width="0.35">CCL5</text>
<text x="1240.80" y="677.86" font-size="21.3" textLength="114.70" lengthAdjust="spacingAndGlyphs" stroke="#fff" stroke-width="0.35">CX3CL1</text>
<text x="1240.80" y="701.44" font-size="21.3" textLength="75.70" lengthAdjust="spacingAndGlyphs" stroke="#fff" stroke-width="0.35">LCN2</text>
<text x="1240.80" y="725.02" font-size="21.3" textLength="94.70" lengthAdjust="spacingAndGlyphs" stroke="#fff" stroke-width="0.35">ANXA2</text>
<text x="1240.80" y="748.59" font-size="21.3" textLength="76.20" lengthAdjust="spacingAndGlyphs" stroke="#fff" stroke-width="0.35">CSF1</text>
<text x="1240.80" y="772.17" font-size="21.3" textLength="82.70" lengthAdjust="spacingAndGlyphs" stroke="#fff" stroke-width="0.35">TIMP2</text>
<text x="1240.80" y="795.74" font-size="21.3" textLength="59.70" lengthAdjust="spacingAndGlyphs" stroke="#fff" stroke-width="0.35">BGN</text>
<text x="1240.80" y="819.32" font-size="21.3" textLength="77.20" lengthAdjust="spacingAndGlyphs" stroke="#fff" stroke-width="0.35">CTGF</text>
<text x="1240.80" y="842.90" font-size="21.3" textLength="113.70" lengthAdjust="spacingAndGlyphs" stroke="#fff" stroke-width="0.35">COL4A1</text>
<text x="1240.80" y="866.47" font-size="21.3" textLength="87.20" lengthAdjust="spacingAndGlyphs" stroke="#fff" stroke-width="0.35">TGFB1</text>
<text x="1240.80" y="890.05" font-size="21.3" textLength="58.70" lengthAdjust="spacingAndGlyphs" stroke="#fff" stroke-width="0.35">TNC</text>
<text x="1240.80" y="913.62" font-size="21.3" textLength="81.20" lengthAdjust="spacingAndGlyphs" stroke="#fff" stroke-width="0.35">EDN1</text>
<text x="1240.80" y="937.20" font-size="21.3" textLength="101.70" lengthAdjust="spacingAndGlyphs" stroke="#fff" stroke-width="0.35">EDNRA</text>
<text x="1240.80" y="960.78" font-size="21.3" textLength="144.20" lengthAdjust="spacingAndGlyphs" stroke="#fff" stroke-width="0.35">SERPINE1</text>
<text x="1240.80" y="984.35" font-size="21.3" textLength="52.20" lengthAdjust="spacingAndGlyphs" stroke="#fff" stroke-width="0.35">F2R</text>
<text x="1240.80" y="1007.93" font-size="21.3" textLength="31.70" lengthAdjust="spacingAndGlyphs" stroke="#fff" stroke-width="0.35">F3</text>
<text x="1240.80" y="1031.50" font-size="21.3" textLength="56.70" lengthAdjust="spacingAndGlyphs" stroke="#fff" stroke-width="0.35">FGA</text>
<text x="1240.80" y="1055.08" font-size="21.3" textLength="56.20" lengthAdjust="spacingAndGlyphs" stroke="#fff" stroke-width="0.35">FGB</text>
<text x="1240.80" y="1078.66" font-size="21.3" textLength="61.20" lengthAdjust="spacingAndGlyphs" stroke="#fff" stroke-width="0.35">FGG</text>
<text x="1240.80" y="1102.23" font-size="21.3" textLength="77.20" lengthAdjust="spacingAndGlyphs" stroke="#fff" stroke-width="0.35">THBD</text>
<text x="1240.80" y="1125.81" font-size="21.3" textLength="106.20" lengthAdjust="spacingAndGlyphs" stroke="#fff" stroke-width="0.35">IFNGR1</text>
<text x="1240.80" y="1149.38" font-size="21.3" textLength="103.70" lengthAdjust="spacingAndGlyphs" stroke="#fff" stroke-width="0.35">IFNGR2</text>
<text x="1240.80" y="1172.96" font-size="21.3" textLength="65.70" lengthAdjust="spacingAndGlyphs" stroke="#fff" stroke-width="0.35">IFIT1</text>
<text x="1240.80" y="1196.54" font-size="21.3" textLength="63.20" lengthAdjust="spacingAndGlyphs" stroke="#fff" stroke-width="0.35">IFIT2</text>
<text x="1240.80" y="1220.11" font-size="21.3" textLength="65.20" lengthAdjust="spacingAndGlyphs" stroke="#fff" stroke-width="0.35">IRF7</text>
<text x="1240.80" y="1243.69" font-size="21.3" textLength="95.70" lengthAdjust="spacingAndGlyphs" stroke="#fff" stroke-width="0.35">CCL17</text>
<text x="1240.80" y="1267.26" font-size="21.3" textLength="93.20" lengthAdjust="spacingAndGlyphs" stroke="#fff" stroke-width="0.35">CXCL1</text>
<text x="1240.80" y="1290.84" font-size="21.3" textLength="115.20" lengthAdjust="spacingAndGlyphs" stroke="#fff" stroke-width="0.35">CXCL17</text>
<text x="1240.80" y="1314.42" font-size="21.3" textLength="91.20" lengthAdjust="spacingAndGlyphs" stroke="#fff" stroke-width="0.35">CCL28</text>
</g>
<rect x="11" y="1400.10" width="97.9" height="21.1" fill="#ABD24F"/>
<text transform="translate(156.50,1427.20) scale(1.13,1)" font-size="46.5" textLength="220.80" lengthAdjust="spacing" stroke="#fff" stroke-width="0.6">Cell Cycle</text>
<rect x="11" y="1452.37" width="97.9" height="21.1" fill="#DF7B2F"/>
<text transform="translate(156.50,1479.45) scale(1.13,1)" font-size="46.5" textLength="878.76" lengthAdjust="spacing" stroke="#fff" stroke-width="0.6">Immune Response Complement Pathway</text>
<rect x="11" y="1504.64" width="97.9" height="21.1" fill="#F8BF31"/>
<text transform="translate(156.50,1531.70) scale(1.13,1)" font-size="46.5" textLength="760.62" lengthAdjust="spacing" stroke="#fff" stroke-width="0.6">Glomerular Injury in Lupus Nephritis</text>
<rect x="11" y="1556.91" width="97.9" height="21.1" fill="#FFF8E1"/>
<text transform="translate(156.50,1583.95) scale(1.13,1)" font-size="46.5" textLength="774.34" lengthAdjust="spacing" stroke="#fff" stroke-width="0.6">Fibroblast/Myofibroblast Proliferation</text>
<rect x="11" y="1609.18" width="97.9" height="21.1" fill="#8DD0E0"/>
<text transform="translate(156.50,1636.20) scale(1.13,1)" font-size="46.5" textLength="395.13" lengthAdjust="spacing" stroke="#fff" stroke-width="0.6">Blood Coagulation</text>
<rect x="11" y="1661.45" width="97.9" height="21.1" fill="#7B4EA3"/>
<text transform="translate(156.50,1688.45) scale(1.13,1)" font-size="46.5" textLength="199.12" lengthAdjust="spacing" stroke="#fff" stroke-width="0.6">Interferon</text>
<rect x="11" y="1713.72" width="97.9" height="21.1" fill="#7F4035"/>
<text transform="translate(156.50,1740.70) scale(1.13,1)" font-size="46.5" textLength="938.50" lengthAdjust="spacing" stroke="#fff" stroke-width="0.6">Chemokine/Chemokine Receptor Interaction</text>
</svg></body></html>
